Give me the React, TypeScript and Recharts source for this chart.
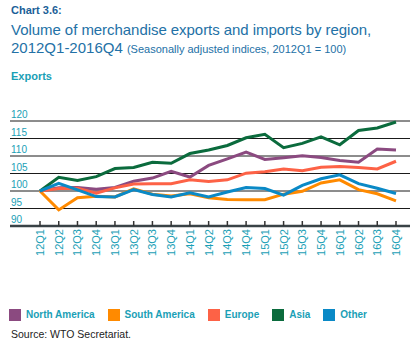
import { CartesianGrid, Line, LineChart, XAxis, YAxis } from "recharts";

const quarters = [
  "12Q1", "12Q2", "12Q3", "12Q4",
  "13Q1", "13Q2", "13Q3", "13Q4",
  "14Q1", "14Q2", "14Q3", "14Q4",
  "15Q1", "15Q2", "15Q3", "15Q4",
  "16Q1", "16Q2", "16Q3", "16Q4",
];

const northAmerica = [
  100, 100.9, 101.0, 100.5, 101.0, 102.8, 103.7, 105.6, 104.0, 107.3,
  109.2, 111.1, 109.0, 109.5, 110.1, 109.6, 108.7, 108.2, 112.0, 111.7,
];
const southAmerica = [
  100, 94.6, 98.1, 98.5, 98.3, 100.6, 99.1, 98.6, 99.2, 98.1,
  97.6, 97.5, 97.5, 99.1, 99.9, 102.3, 103.2, 100.4, 99.2, 97.2,
];
const europe = [
  100, 100.7, 100.8, 99.4, 100.9, 102.0, 102.1, 102.1, 103.2, 102.7,
  103.2, 105.1, 105.5, 106.3, 105.8, 106.8, 107.0, 106.7, 106.3, 108.5,
];
const asia = [
  100, 103.9, 103.0, 104.1, 106.4, 106.7, 108.2, 107.9, 110.7, 111.7,
  113.0, 115.2, 116.2, 112.4, 113.6, 115.5, 113.2, 117.3, 118.0, 119.7,
];
const other = [
  100, 102.2, 100.3, 98.4, 98.3, 100.4, 99.0, 98.3, 99.5, 98.3,
  99.7, 101.0, 100.7, 98.8, 101.6, 103.5, 104.6, 102.1, 100.8, 99.3,
];

const yTicks = [90, 95, 100, 105, 110, 115, 120];

const series = [
  { key: "na", name: "North America", color: "#8b4a80" },
  { key: "sa", name: "South America", color: "#ff8a00" },
  { key: "eu", name: "Europe", color: "#fd6246" },
  { key: "asia", name: "Asia", color: "#0b6b3d" },
  { key: "other", name: "Other", color: "#0a89c6" },
];

const data = quarters.map((q, i) => ({
  q,
  na: northAmerica[i],
  sa: southAmerica[i],
  eu: europe[i],
  asia: asia[i],
  other: other[i],
}));

const FONT = '"Liberation Sans", Arial, Helvetica, sans-serif';
const TEAL = "#1aa0b6";

function XTick({ x, y, payload }: any) {
  return (
    <g>
      <line x1={x} x2={x} y1={y - 5} y2={y} stroke="#333" strokeWidth={1.5} />
      <text
        x={x + 4}
        y={y + 3}
        transform={`rotate(-90 ${x + 4} ${y + 3})`}
        textAnchor="end"
        fill={TEAL}
        fontSize={11}
        fontFamily={FONT}
      >
        {payload.value}
      </text>
    </g>
  );
}

function YTick({ x, y, payload }: any) {
  return (
    <text
      x={x + 1}
      y={y - 3}
      textAnchor="start"
      fill={TEAL}
      fontSize={10}
      fontFamily={FONT}
    >
      {payload.value}
    </text>
  );
}

export default function App() {
  return (
    <div
      style={{
        position: "absolute",
        left: 0,
        top: 0,
        width: 420,
        height: 354,
        background: "#fff",
        fontFamily: FONT,
        overflow: "hidden",
      }}
    >
      <div style={{ position: "absolute", left: 11, top: 5, fontSize: 11, lineHeight: "11px", fontWeight: 700, color: "#1b5f98" }}>
        Chart 3.6:
      </div>
      <div style={{ position: "absolute", left: 11, top: 22, fontSize: 15, lineHeight: "15px", color: "#2371a6", whiteSpace: "nowrap", letterSpacing: -0.05 }}>
        Volume of merchandise exports and imports by region,
      </div>
      <div style={{ position: "absolute", left: 11, top: 40, fontSize: 15, lineHeight: "15px", color: "#2371a6", whiteSpace: "nowrap" }}>
        2012Q1-2016Q4{" "}
        <span style={{ fontSize: 11 }}>(Seasonally adjusted indices, 2012Q1 = 100)</span>
      </div>
      <div style={{ position: "absolute", left: 11, top: 71, fontSize: 11, lineHeight: "11px", fontWeight: 700, color: TEAL }}>
        Exports
      </div>

      <div style={{ position: "absolute", left: 0, top: 0 }}>
        <LineChart
          width={420}
          height={300}
          data={data}
          margin={{ top: 121, right: 10, bottom: 37, left: 10 }}
        >
          <CartesianGrid vertical={false} stroke="#1a1a1a" strokeWidth={1} />
          <XAxis
            dataKey="q"
            interval={0}
            padding={{ left: 30, right: 14 }}
            axisLine={{ stroke: "#394246", strokeWidth: 2.5 }}
            tickLine={false}
            tickSize={0}
            tickMargin={0}
            tick={<XTick />}
            height={37}
          />
          <YAxis
            domain={[90, 120]}
            ticks={yTicks}
            interval={0}
            mirror
            axisLine={false}
            tickLine={false}
            tickSize={0}
            tickMargin={0}
            tick={<YTick />}
          />
          {series.map((s) => (
            <Line
              key={s.key}
              dataKey={s.key}
              name={s.name}
              stroke={s.color}
              strokeWidth={3}
              dot={false}
              type="linear"
              isAnimationActive={false}
            />
          ))}
        </LineChart>
      </div>

      <div style={{ position: "absolute", left: 9, top: 309, display: "flex", alignItems: "center" }}>
        {series.map((s) => (
          <div key={s.key} style={{ display: "flex", alignItems: "center", marginRight: 13 }}>
            <div style={{ width: 12, height: 12, background: s.color, marginRight: 5 }} />
            <span style={{ fontSize: 10, lineHeight: "12px", fontWeight: 700, color: TEAL, whiteSpace: "nowrap" }}>
              {s.name}
            </span>
          </div>
        ))}
      </div>

      <div style={{ position: "absolute", left: 11, top: 329, fontSize: 10.5, lineHeight: "10.5px", color: "#222" }}>
        Source: WTO Secretariat.
      </div>
    </div>
  );
}
